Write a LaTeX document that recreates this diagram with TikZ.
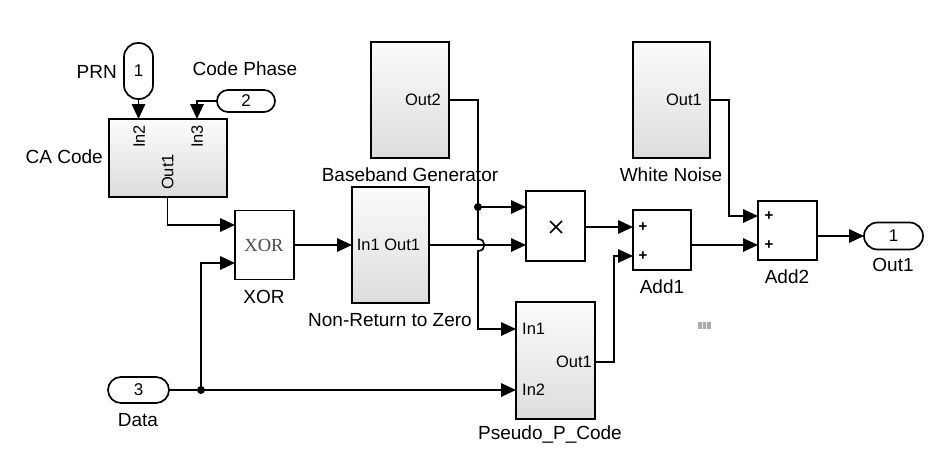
\documentclass[tikz,border=0pt]{standalone}
\usepackage{fontspec}
\setmainfont{Liberation Sans}
\newfontfamily\xorfont{Liberation Serif}
\usetikzlibrary{arrows.meta,calc}
\begin{document}
\begin{tikzpicture}[x=1pt,y=-1pt,
  lbl/.style={font=\fontsize{19}{20}\selectfont, inner sep=0pt, text height=13.6pt, text depth=0pt},
  plbl/.style={font=\fontsize{16.5}{18}\selectfont, inner sep=0pt, text height=11.8pt, text depth=0pt},
  subsys/.style={draw, line width=1.8pt, top color=gray!3, bottom color=gray!27, inner sep=0pt, outer sep=0pt},
  wblk/.style={draw, line width=1.8pt, fill=white, inner sep=0pt, outer sep=0pt},
  pill/.style={draw, line width=1.7pt, fill=white, inner sep=0pt, outer sep=0pt, font=\fontsize{17}{18}\selectfont},
  wire/.style={line width=1.7pt},
  arr/.style={wire, -{Triangle[length=15pt,width=13.5pt]}},
  plus/.style={font=\bfseries\fontsize{15}{16}\selectfont, inner sep=0pt}
]
\fill[white] (0,0) rectangle (932,455);
\useasboundingbox (0,0) rectangle (932,455);

% blocks
\node[subsys, minimum width=118pt, minimum height=78pt] (ca) at (168,158) {};
\node[pill, rounded corners=14pt, minimum width=29pt, minimum height=56pt] (prn) at (138.5,71) {1};
\node[pill, rounded corners=11pt, minimum width=58pt, minimum height=22pt] (cp) at (246,101) {2};
\node[wblk, minimum width=59pt, minimum height=69pt] (xor) at (264.5,245) {};
\node[subsys, minimum width=77pt, minimum height=116pt] (nrz) at (390.5,245) {};
\node[subsys, minimum width=78pt, minimum height=116pt] (bb) at (410,100) {};
\node[wblk, minimum width=59pt, minimum height=70pt] (mul) at (555.5,226) {};
\node[wblk, minimum width=58pt, minimum height=60pt] (add1) at (662,240) {};
\node[subsys, minimum width=77pt, minimum height=116pt] (wn) at (671.5,100) {};
\node[wblk, minimum width=59pt, minimum height=59pt] (add2) at (787.5,230.5) {};
\node[pill, rounded corners=13.5pt, minimum width=59pt, minimum height=27pt] (out) at (893.5,236) {1};
\node[subsys, minimum width=79pt, minimum height=117pt] (ppc) at (555.5,360.5) {};
\node[pill, rounded corners=13pt, minimum width=61pt, minimum height=26pt] (data) at (138.5,390) {3};

% block contents
\node[plbl, rotate=90] (cain2t) at (139,136.5) {In2};
\node[plbl, rotate=90] (cain3t) at (197,136.5) {In3};
\node[plbl, rotate=90] (caoutt) at (167.5,172) {Out1};
\node[font=\xorfont\fontsize{18.5}{19}\selectfont, text=gray!60!black, inner sep=0pt] (xort) at (264,245) {XOR};
\node[plbl] (nrzt) at (388.5,245) {In1 Out1};
\node[plbl, anchor=east] (bbt) at (441,100) {Out2};
\node[plbl, anchor=east] (wnt) at (702,100) {Out1};
\coordinate (mulc) at (556,227);
\draw[line width=1.6pt] ($(mulc)+(-6,-6)$) -- ($(mulc)+(6,6)$) ($(mulc)+(-6,6)$) -- ($(mulc)+(6,-6)$);
\node[plus] (p1a) at (643,227) {+};
\node[plus] (p1b) at (643,256) {+};
\node[plus] (p2a) at (769,216.5) {+};
\node[plus] (p2b) at (769,245) {+};
\node[plbl, anchor=west] (pin1t) at (522,329) {In1};
\node[plbl, anchor=west] (pin2t) at (522,390) {In2};
\node[plbl, anchor=east] (poutt) at (592,361.5) {Out1};

% labels
\node[lbl, anchor=east] (prnL) at (117,72) {PRN};
\node[lbl] (cpL) at (245,69) {Code Phase};
\node[lbl, anchor=east] (caL) at (103,157) {CA Code};
\node[lbl] (xorL) at (264,297) {XOR};
\node[lbl] (nrzL) at (390,320) {Non-Return to Zero};
\node[lbl] (bbL) at (410,175) {Baseband Generator};
\node[lbl] (wnL) at (671,175) {White Noise};
\node[lbl] (a1L) at (662,287) {Add1};
\node[lbl] (a2L) at (787,277) {Add2};
\node[lbl] (oL) at (893,265) {Out1};
\node[lbl] (dL) at (138,420) {Data};
\node[lbl] (pL) at (550,433) {Pseudo\_P\_Code};

% port coordinates
\coordinate (cain3) at (197,119);
\coordinate (caout) at (167.5,197);
\coordinate (xin1) at (235,225);
\coordinate (xin2) at (235,263);
\coordinate (jd) at (201,390);
\coordinate (pin1) at (516,329);
\coordinate (pin2) at (516,390);
\coordinate (pout) at (595,362);
\coordinate (jb) at (478,207);
\coordinate (min1) at (526,207);
\coordinate (min2) at (526,245);
\coordinate (hopA) at (478,239);
\coordinate (hopB) at (478,251);
\coordinate (a1in1) at (633,227);
\coordinate (a1in2) at (633,256);
\coordinate (a1out) at (691,245);
\coordinate (a2in1) at (758,216);
\coordinate (a2in2) at (758,245);
\coordinate (a2out) at (817,236);

% connectors
\draw[arr] (prn.south) -- (prn.south |- ca.north);
\draw[arr] (cp.west) -| (cain3);
\draw[arr] (caout) |- (xin1);
\draw[arr] (data.east) -- (pin2);
\draw[arr] (jd) |- (xin2);
\fill (jd) circle (4pt);
\draw[arr] (xor.east) -- (nrz.west);
\draw[arr] (nrz.east) -- (min2);
\draw[wire] (bb.east) -| (jb);
\draw[arr] (jb) -- (min1);
\draw[arr] (jb) -- (hopA) .. controls (486.5,239) and (486.5,251) .. (hopB) |- (pin1);
\fill (jb) circle (4pt);
\draw[arr] (mul.east |- a1in1) -- (a1in1);
\draw[arr] (pout) -- ++(19,0) |- (a1in2);
\draw[arr] (a1out) -- (a2in2);
\draw[arr] (wn.east) -- ++(19,0) |- (a2in1);
\draw[arr] (a2out) -- (out.west);

% small marker
\fill[gray!65] (698,322) rectangle (711,329);
\draw[white!85!gray, line width=0.8pt] (702.5,322) -- (702.5,329) (706.5,322) -- (706.5,329);
\end{tikzpicture}
\end{document}
